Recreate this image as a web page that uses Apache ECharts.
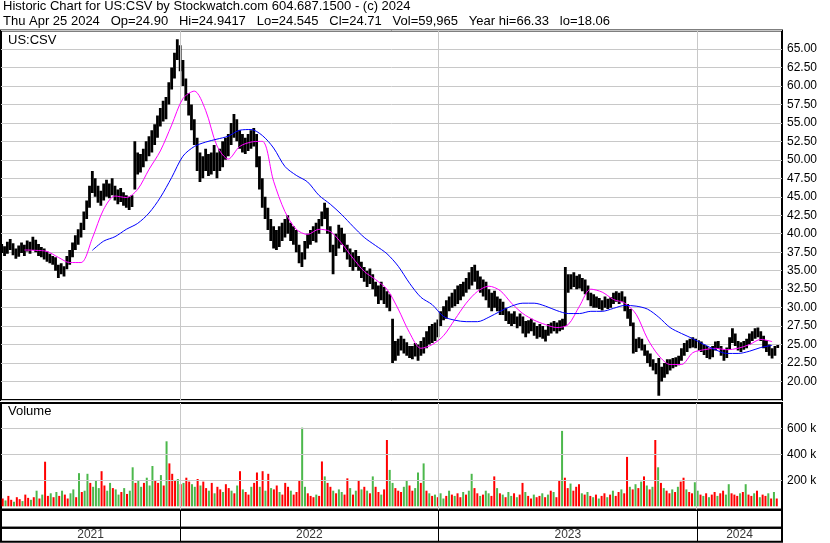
<!DOCTYPE html>
<html><head><meta charset="utf-8">
<script src="https://cdn.jsdelivr.net/npm/echarts@6/dist/echarts.min.js"></script>
<style>html,body{margin:0;padding:0;background:#fff}#c{width:830px;height:543px}</style>
</head><body><div id="c"></div>
<script>
// ---------- data ----------
const START = '2021-04-24';      // first sampled bar
const STEP_DAYS = 4;             // sampling step of price/volume arrays
const MA_STEP_DAYS = 16;         // sampling step of moving-average arrays
const X_MIN = '2021-04-23';
const X_MAX = '2024-04-30';

const lows = [
37.4,37.0,37.3,37.8,37.1,36.6,36.9,37.4,37.0,37.6,
37.3,37.8,37.5,37.0,36.8,36.5,36.2,36.0,35.8,35.0,
34.0,34.5,34.2,35.2,35.8,36.8,37.8,38.5,39.5,40.5,
42.0,43.5,45.5,45.0,44.2,43.8,44.5,45.0,44.8,45.2,
44.5,44.0,44.3,43.8,43.5,43.2,43.6,46.0,48.0,48.3,
49.0,49.8,50.5,51.0,52.0,53.0,54.5,55.2,55.5,57.5,
59.5,61.0,63.5,62.0,60.0,58.0,56.0,54.0,52.0,48.5,
47.0,47.5,48.5,47.8,48.0,48.5,47.5,48.5,49.0,50.0,
50.5,52.0,53.0,52.5,51.5,51.0,50.8,51.2,51.5,51.8,
49.0,46.0,43.5,42.0,40.5,39.0,38.0,37.8,38.2,39.0,
39.5,40.0,39.0,38.5,37.5,36.0,35.5,36.5,38.0,38.5,
39.0,38.8,40.0,41.0,42.0,40.0,37.5,34.5,37.0,38.0,
38.5,37.5,36.5,35.5,35.0,35.5,35.0,34.0,33.5,32.8,
33.2,32.5,31.5,30.5,31.0,30.5,30.0,29.5,22.5,22.8,
23.5,24.2,23.8,23.5,23.2,23.0,23.4,22.8,23.5,23.8,
24.5,25.0,25.2,25.5,26.0,27.5,28.3,28.5,29.5,30.0,
30.2,30.5,31.0,31.5,32.0,32.5,33.0,33.5,32.5,32.0,
31.5,31.0,30.0,29.5,30.0,29.5,29.0,29.0,28.2,27.8,
27.5,27.8,27.2,27.5,26.5,26.0,26.5,26.8,26.2,25.8,
26.0,25.8,25.4,26.2,26.5,26.8,26.5,26.8,27.0,27.5,
32.0,32.5,32.8,32.5,32.6,32.2,31.8,31.0,30.2,30.0,
30.0,29.8,29.6,30.0,29.8,30.0,30.5,30.8,30.5,30.8,
29.5,28.5,27.5,23.8,24.0,24.5,24.2,23.5,22.5,22.0,
21.5,21.0,18.06,20.0,20.5,21.0,21.5,21.8,22.0,22.2,
22.8,23.5,24.0,24.5,24.6,24.5,24.2,24.0,23.6,23.2,
23.0,23.3,24.2,24.4,23.5,22.8,23.2,24.3,25.2,24.8,
24.2,24.0,24.3,24.5,25.0,25.5,25.8,26.0,25.5,24.5,
24.0,23.5,23.1,23.5,24.545
];
const highs = [
38.6,38.3,38.9,39.3,38.7,38.0,38.4,38.8,38.5,39.1,
38.9,39.6,39.2,38.6,38.2,38.0,37.6,37.3,37.0,36.8,
35.8,36.0,35.6,37.0,37.8,38.8,39.8,40.6,41.5,43.0,
44.5,46.5,48.5,47.5,46.5,45.8,46.8,47.3,46.8,47.5,
46.5,46.0,46.2,45.6,45.2,45.0,45.2,52.5,51.0,50.8,
51.5,52.5,53.2,54.0,54.8,56.0,57.0,58.0,58.5,60.5,
62.5,64.5,66.33,65.5,63.5,61.0,59.0,57.5,55.5,53.0,
51.0,50.5,51.5,50.8,51.0,52.0,51.0,51.5,52.5,53.0,
53.5,55.0,56.2,55.5,54.0,53.5,53.0,53.5,54.0,54.3,
53.5,50.5,47.5,45.0,43.5,42.0,41.0,40.5,41.0,41.5,
42.0,42.5,41.5,41.0,40.5,38.5,37.5,39.0,40.0,40.5,
41.0,41.5,42.0,43.0,44.2,43.5,41.0,38.5,40.0,41.2,
40.8,40.0,38.5,38.0,37.5,37.8,37.0,36.2,35.5,35.0,
35.3,34.5,33.5,33.0,33.5,32.8,32.2,31.8,28.5,25.5,
25.8,26.2,25.8,25.3,24.8,24.8,25.2,25.0,25.5,26.0,
26.8,27.5,27.8,28.0,28.4,29.5,30.2,31.0,31.5,32.0,
32.5,33.0,33.2,33.5,34.0,34.8,35.5,35.8,35.0,34.2,
33.8,33.5,32.5,32.0,32.3,31.5,31.2,30.8,30.0,29.5,
29.2,29.5,28.8,29.2,28.8,28.2,28.3,28.5,28.0,27.5,
27.8,27.5,27.0,27.8,28.0,28.2,28.0,28.3,28.5,35.5,
34.5,34.5,34.8,34.3,34.5,34.0,33.8,33.0,32.0,31.8,
31.5,31.3,31.0,31.5,31.2,31.4,32.0,32.2,32.0,32.2,
31.5,30.5,29.8,28.0,25.8,26.0,25.8,25.0,24.2,23.8,
23.0,22.5,23.2,22.0,22.5,23.0,23.0,23.2,23.3,23.5,
24.5,25.2,25.6,25.8,26.0,25.8,25.6,25.4,25.0,24.8,
24.5,24.8,25.4,25.5,24.8,24.3,24.6,26.0,27.2,26.5,
25.5,25.3,25.5,25.8,26.5,26.8,27.2,27.3,26.8,26.2,
25.6,25.0,24.5,24.8,24.94
];
// volume in thousands of shares
const volumes = [
60,45,80,50,35,70,55,40,90,65,
50,70,120,60,90,343,80,100,70,110,
80,120,90,60,100,130,70,255,110,120,
250,180,150,200,140,270,160,120,180,140,
130,90,110,140,95,120,300,180,200,150,
180,220,160,310,200,180,240,160,500,330,
250,200,210,170,180,220,190,170,150,210,
160,190,140,120,180,100,150,130,110,170,
140,120,100,160,270,130,110,90,150,180,
260,150,270,120,250,140,130,160,110,90,
180,150,120,90,110,200,605,150,100,80,
70,90,80,345,230,180,150,120,100,130,
110,90,215,140,90,120,200,130,150,120,
100,230,150,110,90,130,510,280,180,140,
120,110,150,200,160,120,140,260,180,330,
120,100,80,90,70,100,60,80,120,90,
80,100,70,110,90,120,250,140,100,80,
90,120,100,80,230,140,100,90,70,110,
80,100,70,90,180,110,80,60,90,70,
80,100,70,90,120,110,70,200,580,220,
140,175,120,150,170,100,90,110,80,70,
90,60,80,100,70,90,120,80,110,130,
100,380,150,130,170,140,190,230,160,130,
150,510,300,180,140,120,100,130,110,150,
190,220,130,110,100,185,120,90,80,100,
70,90,110,80,100,120,90,170,100,90,
80,100,110,170,90,80,100,120,70,90,
80,100,60,110,60
];
// r = down day, g = up day
const volDir =
"rgrrgrrgrr"+"grgrgrrgrg"+"rgrrggrgrg"+"grgggrrggr"+"ggrgrggrgg"+
"rgggrrgrgr"+"rrgrgrrggr"+"grrgrgrrgr"+"rgrgrgrrgr"+"rgrgrgrrgr"+
"rrgrrrggrr"+"rgrrgrrgrg"+"grrgrgrgrg"+"rgrrgrrggr"+"rrggrrggrg"+
"rgrgrggrgr"+"grrgrggrrg"+"rggrrgrgrg"+"grgrrgrrgr"+"rgrgrgrrgr"+
"rgrrrgrgrg"+"rgrrgrgrrg"+"rrgrgrgrgr"+"grgrgrrgrg"+"rrgrrggrgr"+
"grrgrrggrr"+"rgrgrrgrgr"+"rgrgr";

const maFast = [null,null,37.8,37.75,37.6,36.8,36.1,36.1,39.4,43.3,
45.1,44.9,46.0,48.7,51.2,54.7,58.3,59.3,56.7,51.9,
50.1,51.8,52.4,52.5,47.1,43.0,40.6,39.9,40.6,40.3,
38.7,36.7,34.9,33.8,32.5,29.8,26.6,24.5,25.0,26.2,
28.4,30.6,32.2,32.9,32.3,30.6,29.2,28.3,27.7,27.3,
27.7,30.2,32.5,32.1,31.1,30.6,29.1,25.8,23.5,22.3,
22.3,23.9,24.3,24.5,24.3,24.5,25.0,25.7,25.4];
const maSlow = [null,null,null,null,null,null,null,null,37.75,39.0,
39.6,40.6,41.4,42.8,44.9,47.6,50.5,51.8,52.4,52.8,
53.2,54.0,54.1,53.3,51.6,49.1,47.9,47.0,45.2,44.0,
42.6,41.0,39.5,38.4,37.3,35.6,33.3,31.4,30.4,28.8,
28.3,28.1,28.1,28.7,29.5,30.2,30.6,30.6,30.2,29.6,
29.2,29.2,29.5,29.5,29.9,30.3,30.2,29.8,28.7,27.3,
26.5,25.8,25.0,24.3,23.8,23.8,24.1,24.6,24.9];

const yearLabels = ['2021','2022','2023','2024'];
const yearStarts = ['2022-01-01','2023-01-01','2024-01-01'];
const volumeTicks = [200000,400000,600000];

const titleLine1 = 'Historic Chart for US:CSV by Stockwatch.com 604.687.1500 - (c) 2024';
const titleLine2 = 'Thu Apr 25 2024   Op=24.90   Hi=24.9417   Lo=24.545   Cl=24.71   Vol=59,965   Year hi=66.33   lo=18.06';

// ---------- build ----------
const DAY = 86400000;
const d = s => { const [y,m,dd] = s.split('-').map(Number); return Date.UTC(y, m-1, dd); };
const t0 = d(START);
const xMin = d(X_MIN), xMax = d(X_MAX);
const priceData = lows.map((lo, i) => [t0 + i*STEP_DAYS*DAY, lo, highs[i]]);
const volData = volumes.map((v, i) => ({
  value: [t0 + i*STEP_DAYS*DAY, v*1000],
  itemStyle: {color: volDir[i] === 'g' ? '#4cb84c' : (volDir[i] === 'r' ? '#ff0000' : '#aaaaaa')}
}));
const maData = arr => arr.map((v, j) => [t0 + j*MA_STEP_DAYS*DAY, v]);
const yearLineData = yearStarts.map(s => ({xAxis: d(s)}));
const yearMid = yearLabels.map(y => {
  const a = Math.max(xMin, d(y + '-01-01'));
  const b = Math.min(xMax, d((+y+1) + '-01-01'));
  return [(a+b)/2, 0, y];
});

const FONT = "'Liberation Sans', Arial, sans-serif";
const gridLine = {color:'#c8c8c8', width:1, type:'solid'};
const vLine = (color) => ({silent:true, symbol:['none','none'], label:{show:false},
  lineStyle:{color, width:1, type:'solid'}, animation:false, data: yearLineData});

const xAxisBase = (gi) => ({type:'time', gridIndex:gi, min:xMin, max:xMax,
  axisLine:{show:false}, axisTick:{show:false}, axisLabel:{show:false}, splitLine:{show:false}});

const chart = echarts.init(document.getElementById('c'), null, {renderer:'canvas'});
chart.setOption({
  animation:false,
  backgroundColor:'#fff',
  title:[
    {text:titleLine1, left:3, top:0, padding:0, textStyle:{fontSize:13, fontWeight:'normal', color:'#000', fontFamily:FONT}},
    {text:titleLine2, left:3, top:15, padding:0, textStyle:{fontSize:13, fontWeight:'normal', color:'#000', fontFamily:FONT}},
    {text:'US:CSV', left:8, top:34, padding:0, textStyle:{fontSize:13, fontWeight:'normal', color:'#000', fontFamily:FONT}},
    {text:'Volume', left:8, top:405, padding:0, textStyle:{fontSize:13, fontWeight:'normal', color:'#000', fontFamily:FONT}}
  ],
  grid:[
    {left:1, right:48, top:30.5, height:369.5, show:true, borderColor:'#000', borderWidth:2, backgroundColor:'transparent'},
    {left:1, right:48, top:403, height:106.5, show:true, borderColor:'#000', borderWidth:2, backgroundColor:'transparent'},
    {left:1, right:48, top:510, height:17.7, show:true, borderColor:'#000', borderWidth:2, backgroundColor:'transparent'},
    {left:1, right:48, top:527.7, height:14, show:true, borderColor:'#000', borderWidth:2, backgroundColor:'transparent'}
  ],
  xAxis:[xAxisBase(0), xAxisBase(1), xAxisBase(2), xAxisBase(3)],
  yAxis:[
    {type:'value', gridIndex:0, position:'right', min:17.5, max:67.5, interval:2.5,
      axisLine:{show:false}, axisTick:{show:false}, splitLine:{show:true, lineStyle:gridLine},
      axisLabel:{margin:5, fontSize:12, color:'#000', fontFamily:FONT,
        formatter: v => (v < 19 || v > 66) ? '' : v.toFixed(2)}},
    {type:'value', gridIndex:1, position:'right', min:-24600, max:794600,
      axisLine:{show:false}, axisTick:{show:false}, splitLine:{show:false},
      axisLabel:{margin:5, fontSize:12, color:'#000', fontFamily:FONT, customValues:volumeTicks,
        formatter: v => (v/1000) + ' k'}},
    {type:'value', gridIndex:2, min:-1, max:1, show:false},
    {type:'value', gridIndex:3, min:-1, max:1, show:false}
  ],
  series:[
    {type:'line', xAxisIndex:0, yAxisIndex:0, data:[], markLine: vLine('#c8c8c8'), z:1},
    {type:'custom', xAxisIndex:0, yAxisIndex:0, data:priceData, encode:{x:0, y:[1,2]}, z:3, clip:true,
      renderItem:(params, api) => {
        const t = api.value(0);
        const pHi = api.coord([t, api.value(2)]);
        const pLo = api.coord([t, api.value(1)]);
        return {type:'rect', shape:{x:pHi[0]-1.4, y:pHi[1], width:2.8, height:Math.max(1, pLo[1]-pHi[1])},
          style:{fill:'#000'}};
      }},
    {type:'line', xAxisIndex:0, yAxisIndex:0, data:maData(maFast), showSymbol:false, smooth:0.3,
      lineStyle:{color:'#ff00ff', width:1}, itemStyle:{color:'#ff00ff'}, z:5, connectNulls:false},
    {type:'line', xAxisIndex:0, yAxisIndex:0, data:maData(maSlow), showSymbol:false, smooth:0.3,
      lineStyle:{color:'#0000ff', width:1}, itemStyle:{color:'#0000ff'}, z:5},
    {type:'bar', xAxisIndex:1, yAxisIndex:1, data:volData, barWidth:2, z:3,
      markLine:{silent:true, symbol:['none','none'], label:{show:false}, lineStyle:{color:'#c8c8c8', width:1, type:'solid'},
        data:[...volumeTicks.map(v => ({yAxis:v})), ...yearLineData]}},
    {type:'line', xAxisIndex:2, yAxisIndex:2, data:[[xMin, 5]], showSymbol:false, markLine: vLine('#000')},
    {type:'scatter', xAxisIndex:3, yAxisIndex:3, data:yearMid, symbolSize:0, markLine: vLine('#000'),
      label:{show:true, position:'inside', formatter: p => p.value[2], fontSize:12, color:'#000', fontFamily:FONT}}
  ]
});
</script></body></html>
